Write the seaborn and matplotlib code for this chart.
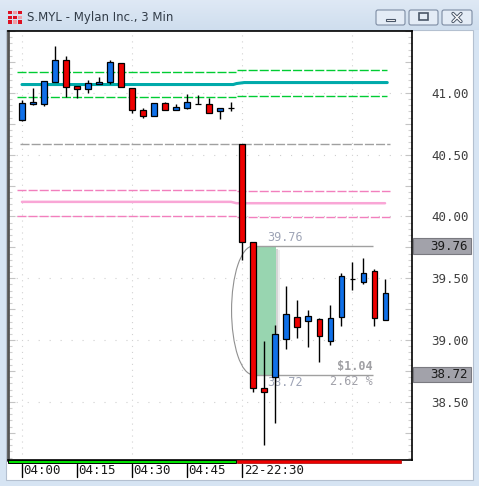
import numpy as np
import seaborn as sns
import matplotlib.pyplot as plt
import matplotlib.transforms as mtransforms
from matplotlib.patches import Rectangle, Arc, FancyBboxPatch
from matplotlib.ticker import MultipleLocator

# 3 min candles: 20 bars from 04:00, then the 22:30 session
opens = [40.78, 40.91, 40.91, 41.09, 41.265, 41.055, 41.03, 41.075, 41.085, 41.24,
         41.04, 40.86, 40.81, 40.915, 40.86, 40.875, 40.91, 40.91, 40.855, 40.875,
         40.585, 39.79, 38.61, 38.70, 39.01, 39.19, 39.155, 39.17, 38.995, 39.19,
         39.495, 39.47, 39.56, 39.16]
highs = [40.94, 41.04, 41.095, 41.38, 41.30, 41.055, 41.10, 41.13, 41.265, 41.24,
         41.04, 40.875, 40.915, 40.925, 40.91, 40.99, 40.985, 40.96, 40.875, 40.925,
         40.585, 39.79, 38.995, 39.12, 39.44, 39.325, 39.245, 39.175, 39.28, 39.545,
         39.635, 39.665, 39.575, 39.495]
lows = [40.77, 40.90, 40.895, 41.09, 40.97, 40.955, 41.00, 41.075, 41.075, 41.045,
        40.835, 40.795, 40.81, 40.86, 40.86, 40.87, 40.91, 40.835, 40.785, 40.855,
        39.65, 38.58, 38.15, 38.33, 38.925, 39.015, 38.945, 38.825, 38.96, 39.115,
        39.405, 39.455, 39.11, 39.16]
closes = [40.92, 40.925, 41.095, 41.265, 41.045, 41.03, 41.08, 41.09, 41.25, 41.045,
          40.86, 40.81, 40.915, 40.86, 40.885, 40.925, 40.91, 40.835, 40.875, 40.875,
          39.79, 38.61, 38.58, 39.05, 39.21, 39.105, 39.195, 39.03, 39.175, 39.52,
          39.495, 39.545, 39.175, 39.38]

time_ticks = [0, 5, 10, 15, 20]
time_labels = ["04:00", "04:15", "04:30", "04:45", "22-22:30"]
grid_x = [0, 10, 20, 30]
price_ticks = [38.5, 39.0, 39.5, 40.0, 40.5, 41.0]

# band lines (left session / right session)
green_hi = [41.167, 41.184]
green_lo = [40.965, 40.976]
pink_hi = [40.215, 40.205]
pink_lo = [40.005, 39.995]
grey_level = 40.585
teal_x = [0, 19.2, 19.5, 20.2, 33.2]
teal_y = [41.067, 41.067, 41.075, 41.083, 41.083]
pink_x = [0, 19.0, 19.5, 33.0]
pink_y = [40.118, 40.118, 40.107, 40.107]

# measure tool
m_top, m_bot = 39.76, 38.72
m_change, m_pct = "$1.04", "2.62 %"

sns.set_theme(style="white")
plt.rcParams['font.family'] = ['DejaVu Sans Mono']
plt.rcParams['lines.scale_dashes'] = False

fig = plt.figure(figsize=(4.79, 4.86), dpi=100, facecolor='#d6e4f3')
fig.patches.append(Rectangle((6 / 479, 1 - 480 / 486), 467 / 479, 450 / 486,
                             transform=fig.transFigure, fc='white', ec='#b4c0d0',
                             lw=0.8, zorder=-1))

ax = fig.add_axes([8 / 479, 1 - 460 / 486, 404 / 479, 429 / 486])
ax.set_facecolor('white')
x = np.arange(len(opens))

# dotted grid
ax.hlines(price_ticks, -1.27, 35.45, color='#cfcfcf', lw=0.8,
          linestyles=(2.0, (0.8, 7.1)), zorder=0)
ax.vlines(grid_x, 38.03, 41.5, color='#d2d2d2', lw=0.8,
          linestyles=(0, (0.8, 3.5)), zorder=0)

# level lines
xl0, xl1, xr0, xr1 = -0.45, 19.45, 19.55, 33.2
dash = (0, (6.5, 1.5))
for vals, col in [(green_hi, '#00cc33'), (green_lo, '#00cc33'),
                  (pink_hi, '#f27fbd'), (pink_lo, '#f27fbd')]:
    ax.hlines(vals[0], xl0, xl1, color=col, lw=1, linestyles=dash, zorder=1)
    ax.hlines(vals[1], xr0, xr1 if col == '#00cc33' else 33.45, color=col, lw=1,
              linestyles=dash, zorder=1)
ax.hlines(grey_level, -0.2, 33.45, color='#a0a0a0', lw=1, linestyles=dash, zorder=1)
sns.lineplot(x=teal_x, y=teal_y, sort=False, estimator=None, color='#00aaaa',
             lw=2.2, ax=ax, zorder=1)
sns.lineplot(x=pink_x, y=pink_y, sort=False, estimator=None, color='#f9a6d6',
             lw=1.8, ax=ax, zorder=1)

# measure box
ax.add_patch(Rectangle((21.0, m_bot), 2.1, m_top - m_bot, fc='#98d5b0', ec='none', zorder=2))
ax.add_patch(Rectangle((23.1, m_bot - 0.02), 0.18, m_top - m_bot, fc='#888888',
                       alpha=0.35, ec='none', zorder=2))
ax.add_patch(Rectangle((23.28, m_bot - 0.03), 0.15, m_top - m_bot, fc='#888888',
                       alpha=0.15, ec='none', zorder=2))
ax.hlines([m_top, m_bot], 21.0, 31.9, color='#a0a0a0', lw=1, zorder=2)
ax.add_patch(Arc((21.0, (m_top + m_bot) / 2), 3.9, m_top - m_bot, theta1=90, theta2=270,
                 color='#909090', lw=0.8, zorder=2))
ax.text(23.9, 39.827, f"{m_top:.2f}", ha='center', va='center', fontsize=8.5,
        color='#9ea4b6', zorder=2)
ax.text(23.9, 38.654, f"{m_bot:.2f}", ha='center', va='center', fontsize=8.5,
        color='#9ea4b6', zorder=2)
ax.text(31.9, 38.786, m_change, ha='right', va='center', fontsize=8.5,
        fontweight='bold', color='#a0a0a4', zorder=2)
ax.text(31.9, 38.662, m_pct, ha='right', va='center', fontsize=8.5,
        color='#a0a0a8', zorder=2)

# candles
o = np.array(opens)
c = np.array(closes)
colors = np.where(c >= o, '#1070e8', '#ee0000')
ax.vlines(x, lows, highs, color='black', lw=1, zorder=3)
ax.bar(x, np.abs(c - o), bottom=np.minimum(o, c), width=0.46, color=colors,
       edgecolor='black', linewidth=0.9, zorder=4)

ax.set_xlim(-1.27, 35.45)
ax.set_ylim(38.03, 41.50)

# axes / ticks
ax.set_xticks(time_ticks)
ax.tick_params(axis='x', length=0, labelbottom=False)
ax.yaxis.set_major_locator(MultipleLocator(0.25))
ax.yaxis.set_minor_locator(MultipleLocator(0.05))
ax.yaxis.set_major_formatter(plt.FuncFormatter(
    lambda v, p: f"{v:.2f}" if any(abs(v - t) < 1e-6 for t in price_ticks) else ""))
ax.tick_params(axis='y', which='major', direction='in', length=5, width=0.8,
               color='#c4c4c4', left=True, right=True, labelleft=False,
               labelright=True, pad=14, labelsize=9, labelcolor='#404040')
ax.tick_params(axis='y', which='minor', direction='in', length=3, width=0.8,
               color='#d0d0d0', left=True, right=True)
ax.grid(False)
for s in ax.spines.values():
    s.set_color('black')
    s.set_linewidth(1.2)
ax.spines['left'].set_color('#555555')
ax.spines['left'].set_linewidth(2)

# current price boxes on the right
trans_y = mtransforms.blended_transform_factory(ax.transAxes, ax.transData)
for v in [m_top, m_bot]:
    ax.add_patch(Rectangle((1.0025, v - 0.063), 0.1435, 0.126, transform=trans_y,
                           fc='#a2a2aa', ec='#7a7a80', lw=0.8, clip_on=False, zorder=5))
    ax.text(1.139, v, f"{v:.2f}", transform=trans_y, ha='right', va='center',
            fontsize=9, color='#1a1a1a', clip_on=False, zorder=6)

# time axis under the plot
trans_x = mtransforms.blended_transform_factory(ax.transData, ax.transAxes)
ax.add_patch(Rectangle((-1.27, -0.008), 20.72, 0.008, transform=trans_x, fc='#00e000',
                       ec='black', lw=0.7, clip_on=False, zorder=5))
ax.add_patch(Rectangle((19.55, -0.008), 14.9, 0.008, transform=trans_x, fc='#ee0000',
                       ec='#aa0000', lw=0.5, clip_on=False, zorder=5))
for pos, lab in zip(time_ticks, time_labels):
    ax.plot([pos, pos], [-0.01, -0.039], transform=trans_x, color='black', lw=1,
            clip_on=False)
    ax.text(pos + 0.15, -0.025, lab, transform=trans_x, ha='left', va='center',
            fontsize=9, color='#1a1a1a', clip_on=False)

# window title bar
tax = fig.add_axes([0, 1 - 30 / 486, 1, 30 / 486])
tax.set_xlim(0, 479)
tax.set_ylim(30, 0)
tax.axis('off')
grad = np.linspace(0, 1, 30)[:, None] * np.ones((30, 2))
tax.imshow(grad, extent=[0, 479, 30, 0], aspect='auto',
           cmap=sns.blend_palette(['#dfe9f5', '#cfdeee'], as_cmap=True))
for r, row in enumerate([[1, 0, 1], [1, 1, 0], [1, 0, 1]]):
    for k, on in enumerate(row):
        tax.add_patch(Rectangle((8 + k * 5, 11 + r * 4.5), 4, 3.5,
                                fc='#dd1122' if on else '#f0a0a8', ec='none'))
tax.text(27, 17, "S.MYL - Mylan Inc., 3 Min", va='center', ha='left', fontsize=8.5,
         family='DejaVu Sans', color='#323c48')
for bx, bw in [(376, 29), (409, 29), (442, 30)]:
    tax.add_patch(FancyBboxPatch((bx, 10), bw, 15, boxstyle='round,pad=0,rounding_size=2',
                                 fc='#e4ecf6', ec='#7d8ca3', lw=0.8))
tax.add_patch(Rectangle((386, 18.5), 9, 2.5, fc='white', ec='#4a5668', lw=0.8))
tax.add_patch(Rectangle((419, 13.5), 9, 7, fc='none', ec='#4a5668', lw=1.2))
tax.plot([453, 461], [13.5, 21.5], color='#4a5668', lw=2.4)
tax.plot([453, 461], [21.5, 13.5], color='#4a5668', lw=2.4)
tax.plot([453, 461], [13.5, 21.5], color='white', lw=1)
tax.plot([453, 461], [21.5, 13.5], color='white', lw=1)

fig.savefig('out.png', dpi=100)
